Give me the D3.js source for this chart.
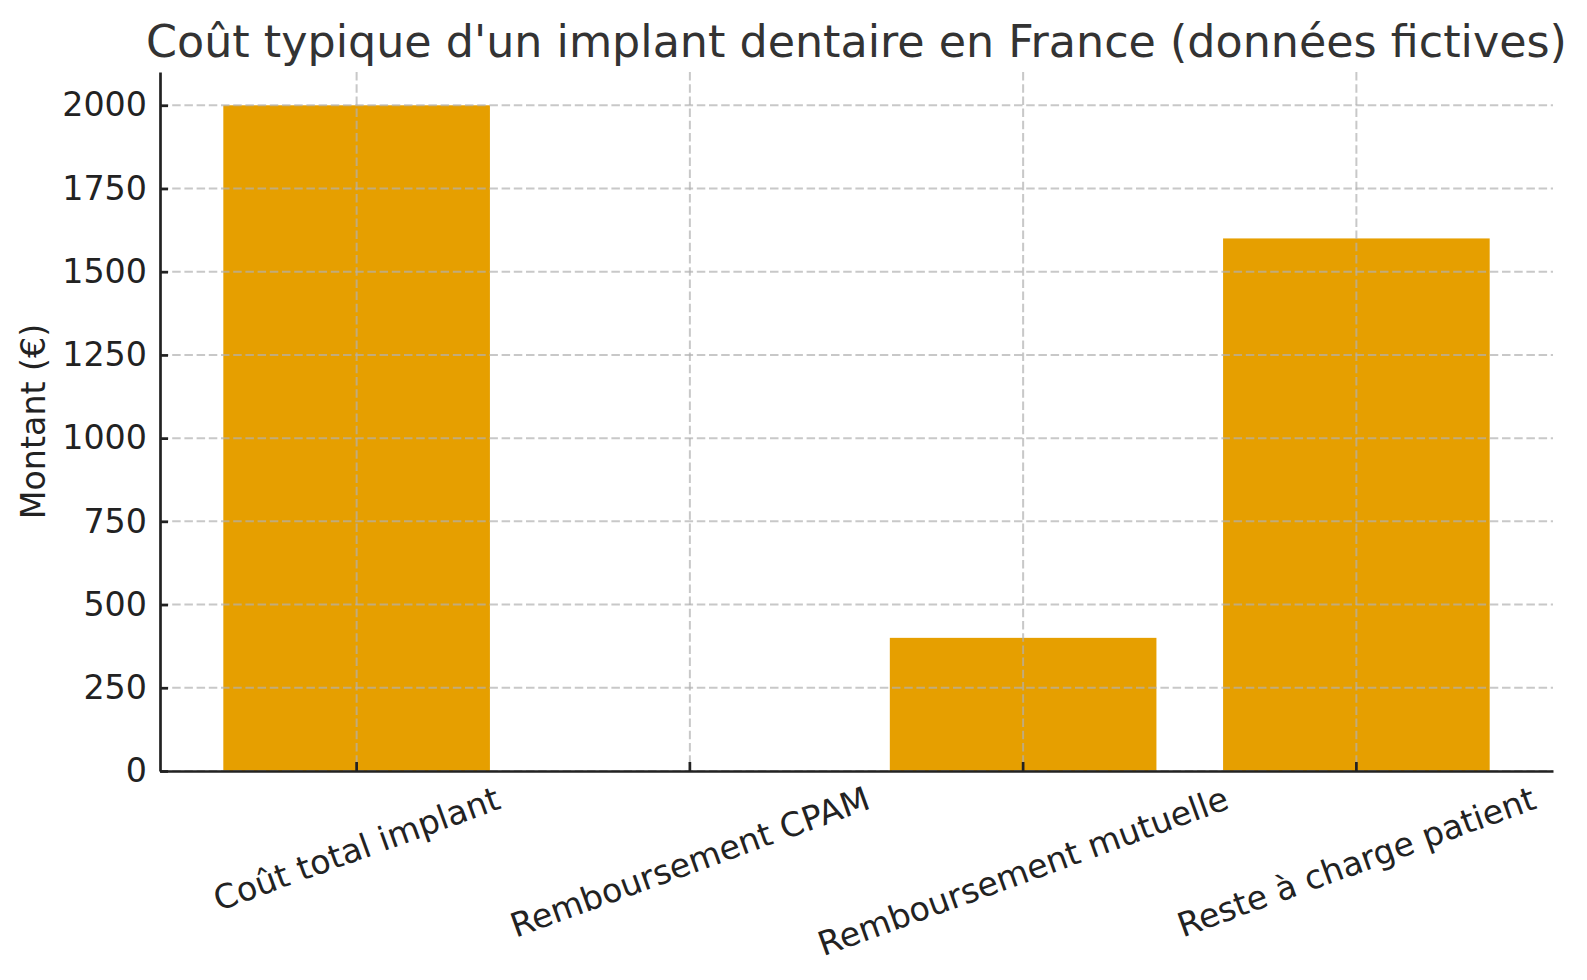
<!DOCTYPE html>
<html>
<head>
<meta charset="utf-8">
<script src="https://cdn.jsdelivr.net/npm/d3@7"></script>
<style>
  body { margin: 0; background: #fff; }
  svg { font-family: "DejaVu Sans", sans-serif; }
</style>
</head>
<body>
<script>
// data
const categories = [
  "Coût total implant",
  "Remboursement CPAM",
  "Remboursement mutuelle",
  "Reste à charge patient",
];
const amounts = [2000, 0, 400, 1600];
const yTicks = [0, 250, 500, 750, 1000, 1250, 1500, 1750, 2000];
const title = "Coût typique d'un implant dentaire en France (données fictives)";
const yLabel = "Montant (€)";

const baseWidth = 1587,
  baseHeight = 980;
const margin = { top: 72, right: 34, bottom: 209, left: 160 };
const width = baseWidth - margin.left - margin.right;
const height = baseHeight - margin.top - margin.bottom;

const x = d3
  .scaleBand()
  .domain(categories)
  .range([0, width])
  .paddingInner(0.2)
  .paddingOuter(0.19);

const y = d3.scaleLinear().domain([0, 2100]).range([height, 0]);

const svg = d3
  .select("body")
  .append("svg")
  .attr("width", baseWidth)
  .attr("height", baseHeight);

const chart = svg
  .append("g")
  .attr("transform", "translate(" + margin.left + "," + margin.top + ")");

// bars
chart
  .selectAll("rect.bar")
  .data(categories)
  .enter()
  .append("rect")
  .attr("class", "bar")
  .attr("x", (d) => x(d))
  .attr("width", x.bandwidth())
  .attr("y", (d, i) => y(amounts[i]))
  .attr("height", (d, i) => y(0) - y(amounts[i]))
  .attr("fill", "#E69F00");

// grid (on top of bars, like the original)
const grid = chart.append("g").attr("class", "grid");
grid
  .selectAll("line.h")
  .data(yTicks)
  .enter()
  .append("line")
  .attr("x1", 0)
  .attr("x2", width)
  .attr("y1", (d) => y(d))
  .attr("y2", (d) => y(d));
grid
  .selectAll("line.v")
  .data(categories)
  .enter()
  .append("line")
  .attr("x1", (d) => x(d) + x.bandwidth() / 2)
  .attr("x2", (d) => x(d) + x.bandwidth() / 2)
  .attr("y1", 0)
  .attr("y2", height);
grid
  .selectAll("line")
  .attr("stroke", "#b0b0b0")
  .attr("stroke-opacity", 0.7)
  .attr("stroke-width", 2)
  .attr("stroke-dasharray", "8.5,3.7");

// y axis
const yAxis = d3
  .axisLeft(y)
  .tickValues(yTicks)
  .tickFormat(d3.format("d"))
  .tickSizeInner(-8)
  .tickSizeOuter(0)
  .tickPadding(13);
const gy = chart.append("g").call(yAxis);
gy.select(".domain").attr("stroke", "#222").attr("stroke-width", 2.7);
gy.selectAll(".tick line").attr("stroke", "#222").attr("stroke-width", 2.7);
gy.selectAll(".tick text")
  .attr("font-size", 33.3)
  .attr("fill", "#222")
  .attr("font-family", "DejaVu Sans");

// x axis
const xAxis = d3.axisBottom(x).tickSizeInner(-9).tickSizeOuter(0);
const gx = chart.append("g").attr("transform", "translate(0," + height + ")").call(xAxis);
gx.select(".domain").attr("stroke", "#222").attr("stroke-width", 2.7);
gx.selectAll(".tick line").attr("stroke", "#222").attr("stroke-width", 2.7);

const fs = 33.3,
  angle = 20,
  rad = (angle * Math.PI) / 180,
  boxTop = 8;
gx.selectAll(".tick text")
  .attr("font-size", fs)
  .attr("fill", "#222")
  .attr("font-family", "DejaVu Sans")
  .attr("text-anchor", "middle")
  .attr("dy", null)
  .each(function () {
    const t = d3.select(this);
    const w = this.getComputedTextLength();
    const h = fs * 1.164;
    const half = (w / 2) * Math.sin(rad) + (h / 2) * Math.cos(rad);
    const cy = boxTop + half;
    t.attr("x", 0)
      .attr("y", cy + fs * 0.346)
      .attr("transform", "rotate(" + -angle + ",0," + cy + ")");
  });

// title
svg
  .append("text")
  .attr("x", margin.left + width / 2)
  .attr("y", 57)
  .attr("text-anchor", "middle")
  .attr("font-size", 44.4)
  .attr("fill", "#333")
  .text(title);

// y label
svg
  .append("text")
  .attr("transform", "translate(45," + (margin.top + height / 2) + ") rotate(-90)")
  .attr("text-anchor", "middle")
  .attr("font-size", 33.3)
  .attr("fill", "#222")
  .text(yLabel);
</script>
</body>
</html>
